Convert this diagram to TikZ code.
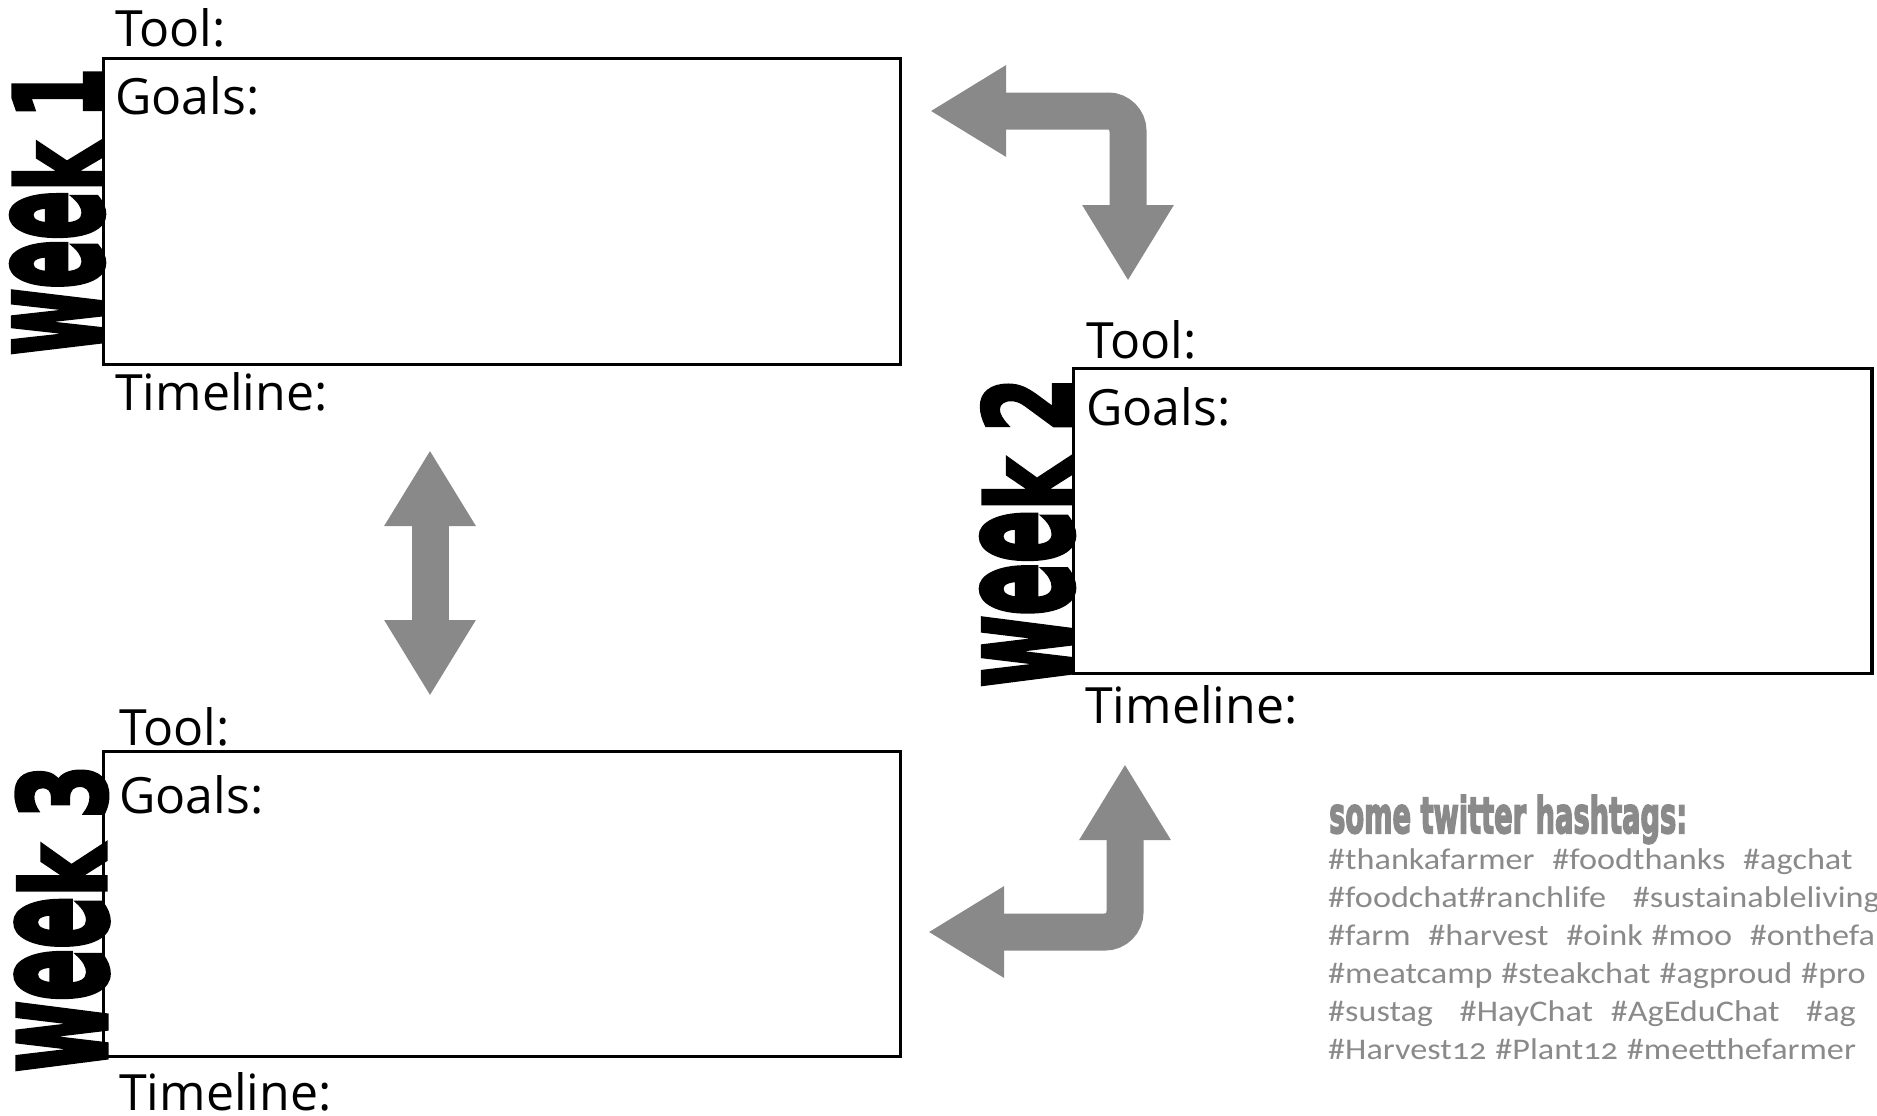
\documentclass[tikz,border=0pt]{standalone}
\usepackage{fontspec}
\usepackage{graphicx}
\usetikzlibrary{arrows.meta}

\newfontfamily\labelfont{Open Sans}
\newfontfamily\tagfont{Carlito}[Numbers=OldStyle, FakeStretch=1.14, WordSpace=1.15]
\newfontfamily\weekfont{DejaVu Sans Bold}[FakeBold=4]

\definecolor{shapegray}{HTML}{898989}
\definecolor{taggray}{HTML}{8A8A8A}

% tall, condensed "week n" heading: x-height letters stretched to digit height
\newcommand\weeklabel[2]{\resizebox{#1}{89pt}{\weekfont\scalebox{1}[1.33]{wee}\scalebox{1}[0.96]{k} #2}}

\tikzset{
  planbox/.style={draw=black, line width=3.2pt, inner sep=0pt},
  fieldlabel/.style={anchor=base west, inner sep=0pt,
    font=\labelfont\fontsize{50}{60}\selectfont},
  weekhead/.style={rotate=90, inner sep=0pt, anchor=center},
  bigarrow/.style={draw=shapegray, line width=37pt, rounded corners=20pt,
    arrows={Triangle[length=76pt,width=86pt]-Triangle[length=76pt,width=86pt]}},
  tagline/.style={anchor=base west, inner sep=0pt, text=taggray,
    font=\tagfont\fontsize{30}{36}\selectfont},
}

\begin{document}
\begin{tikzpicture}[x=1pt,y=-1pt]
\useasboundingbox (0,0) rectangle (1877,1116);

% week 1
\node[planbox, minimum width=797pt, minimum height=306pt] (b1) at (502,211.5) {};
\node[weekhead] (w1) at (57.5,211.5) {\weeklabel{287pt}{1}};
\node[fieldlabel] (t1) at (115,47) {Tool:};
\node[fieldlabel] (g1) at (115,114) {Goals:};
\node[fieldlabel] (l1) at (115,410) {Timeline:};

% week 2
\node[planbox, minimum width=798.5pt, minimum height=305pt] (b2) at (1472.75,521) {};
\node[weekhead] (w2) at (1027.5,532.5) {\weeklabel{309pt}{2}};
\node[fieldlabel] (t2) at (1086,358) {Tool:};
\node[fieldlabel] (g2) at (1086,425) {Goals:};
\node[fieldlabel] (l2) at (1085,723) {Timeline:};

% week 3
\node[planbox, minimum width=797pt, minimum height=305pt] (b3) at (502,904) {};
\node[weekhead] (w3) at (62,918.5) {\weeklabel{307pt}{3}};
\node[fieldlabel] (t3) at (119,745) {Tool:};
\node[fieldlabel] (g3) at (119,813) {Goals:};
\node[fieldlabel] (l3) at (119,1110) {Timeline:};

% arrows between the weeks
\coordinate (a1s) at (930,111);
\coordinate (a1c) at (1128,111);
\coordinate (a1e) at (1128,281);
\draw[bigarrow] (a1s) -- (a1c) -- (a1e);

\coordinate (a2s) at (430,450);
\coordinate (a2e) at (430,696);
\draw[bigarrow] (a2s) -- (a2e);

\coordinate (a3s) at (928,932);
\coordinate (a3c) at (1125,932);
\coordinate (a3e) at (1125,764);
\draw[bigarrow] (a3s) -- (a3c) -- (a3e);

% hashtag list
\node[anchor=base west, inner sep=0pt, text=taggray] (ht) at (1329,833)
  {\resizebox{358pt}{38pt}{\weekfont some twitter hashtags:}};
\node[tagline] (h1) at (1328,869) {\#thankafarmer\ \ \#foodthanks\ \ \#agchat};
\node[tagline] (h2) at (1328,907) {\#foodchat\#ranchlife\ \ \ \#sustainableliving};
\node[tagline] (h3) at (1328,945) {\#farm\ \ \#harvest\ \ \#oink \#moo\ \ \#onthefa};
\node[tagline] (h4) at (1328,983) {\#meatcamp \#steakchat \#agproud \#pro};
\node[tagline] (h5) at (1328,1021) {\#sustag\ \ \ \#HayChat\ \ \#AgEduChat\ \ \ \#ag};
\node[tagline] (h6) at (1328,1059) {\#Harvest12 \#Plant12 \#meetthefarmer};
\end{tikzpicture}
\end{document}
